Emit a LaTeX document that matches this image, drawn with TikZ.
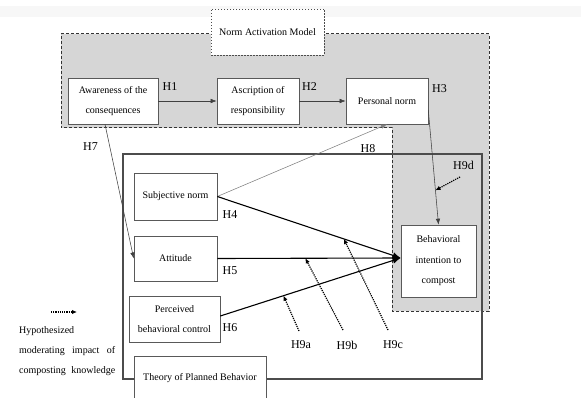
\documentclass[tikz,border=0pt]{standalone}
\usepackage{fontspec}
\setmainfont{Liberation Serif}
\usepackage{tikz}
\usetikzlibrary{arrows.meta, positioning, calc}
\definecolor{namgray}{rgb}{0.84, 0.84, 0.84}

\begin{document}
\begin{tikzpicture}[x=1pt, y=-1pt,
	box/.style={draw=black!65, fill=white, line width=0.6pt, align=center, inner sep=2pt, font=\fontsize{10}{20.5}\selectfont},
	hyp/.style={font=\fontsize{12}{14}\selectfont, inner sep=1pt},
	legendtext/.style={font=\fontsize{10}{12}\selectfont, anchor=base west, inner sep=0pt},
	thinarrow/.style={draw=black!75, line width=0.55pt, -{Latex[length=6pt, width=4.5pt]}},
	strong/.style={draw=black, line width=1.1pt, -{Latex[length=8pt, width=6.5pt]}},
	moder/.style={draw=black, line width=1.2pt, densely dotted, -{Latex[length=5pt, width=4.5pt]}}]

\useasboundingbox (0,0) rectangle (581,398);
\fill[gray!6] (0,6) rectangle (581,17);

% norm activation model
\fill[namgray] (61,34) -- (489,34) -- (489,311) -- (392,311) -- (392,128) -- (61,128) -- cycle;
\draw[black!80, line width=1pt, dash pattern=on 3pt off 2pt] (61,34) -- (489,34) -- (489,311) -- (392,311) -- (392,128) -- (61,128) -- cycle;

% theory of planned behavior
\draw[black!70, line width=1.1pt] (123,154) rectangle (482,379);

\node[box, draw=black!70, dash pattern=on 1.5pt off 1.5pt, minimum width=113pt, minimum height=46pt] (nam) at (267.5,32) {Norm Activation Model};

\node[box, minimum width=90pt, minimum height=46pt] (aware) at (113,101) {Awareness of the\\consequences};
\node[box, minimum width=82pt, minimum height=46pt] (ascr) at (258,101) {Ascription of\\responsibility};
\node[box, minimum width=82pt, minimum height=46pt] (pn) at (387,101) {Personal norm};

\node[box, minimum width=83pt, minimum height=47pt] (sn) at (175.5,196.5) {Subjective norm};
\node[box, minimum width=83pt, minimum height=45pt] (att) at (175.5,258.5) {Attitude};
\node[box, minimum width=91pt, minimum height=46pt] (pbc) at (174.5,319) {Perceived\\behavioral control};
\node[box, minimum width=75pt, minimum height=72pt] (bi) at (438.5,261) {Behavioral\\intention to\\compost};
\node[box, minimum width=132pt, minimum height=44pt] (tpb) at (200,378) {Theory of Planned Behavior};

\node[hyp] (h1) at (170,87) {H1};
\node[hyp] (h2) at (309.5,87) {H2};
\node[hyp] (h3) at (439.5,89) {H3};
\node[hyp] (h7) at (90.5,147) {H7};
\node[hyp] (h8) at (368,149) {H8};
\node[hyp] (h4) at (230,215) {H4};
\node[hyp] (h5) at (230,271) {H5};
\node[hyp] (h6) at (230,327.5) {H6};
\node[hyp] (h9a) at (301,345) {H9a};
\node[hyp] (h9b) at (347,345) {H9b};
\node[hyp] (h9c) at (393,345) {H9c};
\node[hyp] (h9d) at (463.5,165) {H9d};

\draw[thinarrow] (aware) -- (ascr);
\draw[thinarrow] (ascr) -- (pn);
\draw[thinarrow] ([xshift=-8pt]aware.south) -- (att.west);
\draw[thinarrow, draw=black!50] (sn.east) -- (pn.south);
\coordinate (pnout) at ([yshift=-9pt]pn.east);
\draw[thinarrow] (pnout) -- (bi.north);

\coordinate (hub) at ([yshift=3pt]bi.west);
\draw[strong] (sn.east) -- (hub);
\draw[strong] (att.east) -- (hub);
\draw[strong] ([yshift=3pt]pbc.east) -- (hub);

% moderating impact
\coordinate (on9a) at ($([yshift=3pt]pbc.east)!0.35!(hub)$);
\coordinate (on9b) at ($(att.east)!0.48!(hub)$);
\coordinate (on9c) at ($(sn.east)!0.69!(hub)$);
\coordinate (on9d) at ($(pnout)!0.70!(bi.north)$);
\coordinate (from9a) at (299,331);
\coordinate (from9b) at (343,330);
\coordinate (from9c) at (388,330);
\coordinate (from9d) at (460,177);
\draw[moder] (from9a) -- (on9a);
\draw[moder] (from9b) -- (on9b);
\draw[moder] (from9c) -- (on9c);
\draw[moder] (from9d) -- (on9d);

% legend
\coordinate (lega) at (51,312);
\coordinate (legb) at (77,312);
\draw[moder] (lega) -- (legb);
\node[legendtext] (leg1) at (19,333) {Hypothesized};
\node[legendtext] (leg2) at (19,353) {\makebox[96pt][s]{moderating impact of}};
\node[legendtext] (leg3) at (19,373) {\makebox[96pt][s]{composting knowledge}};

\end{tikzpicture}
\end{document}
